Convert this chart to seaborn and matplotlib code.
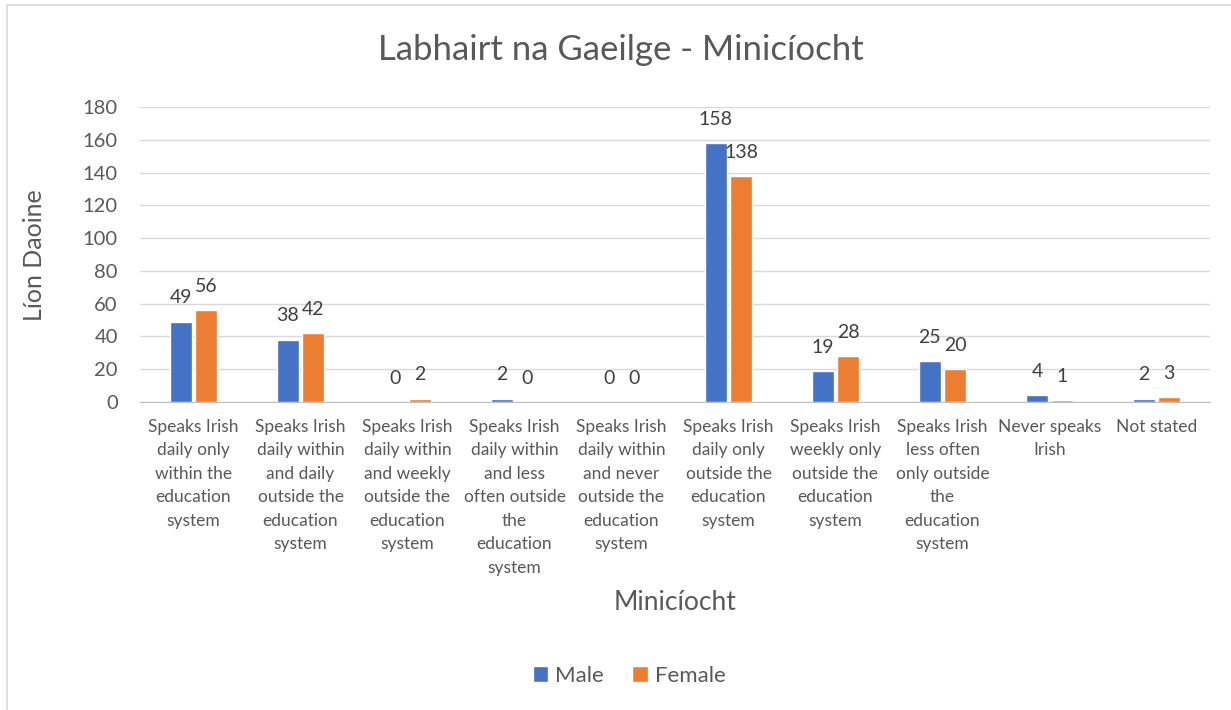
import pandas as pd
from matplotlib import pyplot as plt
import seaborn as sns

categories = [
    "Speaks Irish\ndaily only\nwithin the\neducation\nsystem",
    "Speaks Irish\ndaily within\nand daily\noutside the\neducation\nsystem",
    "Speaks Irish\ndaily within\nand weekly\noutside the\neducation\nsystem",
    "Speaks Irish\ndaily within\nand less\noften outside\nthe\neducation\nsystem",
    "Speaks Irish\ndaily within\nand never\noutside the\neducation\nsystem",
    "Speaks Irish\ndaily only\noutside the\neducation\nsystem",
    "Speaks Irish\nweekly only\noutside the\neducation\nsystem",
    "Speaks Irish\nless often\nonly outside\nthe\neducation\nsystem",
    "Never speaks\nIrish",
    "Not stated",
]
male = [49, 38, 0, 2, 0, 158, 19, 25, 4, 2]
female = [56, 42, 2, 0, 0, 138, 28, 20, 1, 3]
series = ["Male", "Female"]
colors = ["#4472c4", "#ed7d31"]

df = pd.DataFrame({
    "cat": categories * 2,
    "val": male + female,
    "sex": ["Male"] * len(male) + ["Female"] * len(female),
})

sns.set_style("white")
plt.rcParams["font.family"] = ["Lato", "DejaVu Sans"]
txt = "#595959"

fig = plt.figure(figsize=(12.31, 7.10), dpi=100)
ax = fig.add_axes([140 / 1231, 1 - 402 / 710, 1070 / 1231, 295 / 710])

sns.barplot(data=df, x="cat", y="val", hue="sex", hue_order=series,
            palette=colors, width=0.47, gap=0.1, ax=ax, saturation=1)

for cont in ax.containers:
    ax.bar_label(cont, labels=[str(int(b.get_height())) for b in cont],
                 padding=11, fontsize=14, color="#404040")

ax.set_ylim(0, 180)
ax.set_xlim(-0.5, len(categories) - 0.5)
ax.set_yticks(range(0, 181, 20))
ax.yaxis.grid(True, color="#d9d9d9", linewidth=1)
ax.set_axisbelow(True)
for s in ["top", "right", "left"]:
    ax.spines[s].set_visible(False)
ax.spines["bottom"].set_color("#bfbfbf")
ax.tick_params(axis="y", labelsize=14.5, labelcolor=txt, length=0, pad=16)
ax.tick_params(axis="x", labelsize=12.5, labelcolor=txt, length=0, pad=12)
for lab in ax.get_xticklabels():
    lab.set_verticalalignment("top")
    lab.set_linespacing(1.58)

ax.set_xlabel("Minicíocht", fontsize=19, color=txt)
ax.xaxis.set_label_coords(0.5, -(602 - 402) / 295)
ax.xaxis.label.set_verticalalignment("center")
ax.set_ylabel("Líon Daoine", fontsize=18, color=txt)
ax.yaxis.set_label_coords(-(140 - 35) / 1070, (402 - 255) / 295)
ax.yaxis.label.set_verticalalignment("center")
fig.text(621 / 1231, 1 - 50 / 710, "Labhairt na Gaeilge - Minicíocht",
         fontsize=25, color=txt, ha="center", va="center")

leg = ax.legend(loc="center", bbox_to_anchor=(489 / 1070, -(676 - 402) / 295), ncol=2,
                frameon=False, fontsize=16, handlelength=0.7, handleheight=0.7,
                columnspacing=1.3, handletextpad=0.3)
for t in leg.get_texts():
    t.set_color(txt)

# outer chart border (left and top visible in reference)
fig.add_artist(plt.Line2D([7 / 1231, 7 / 1231], [0, 1 - 5 / 710], color="#d9d9d9", lw=1.2))
fig.add_artist(plt.Line2D([7 / 1231, 1], [1 - 5 / 710, 1 - 5 / 710], color="#d9d9d9", lw=1.2))

plt.savefig("out.png", dpi=100)
